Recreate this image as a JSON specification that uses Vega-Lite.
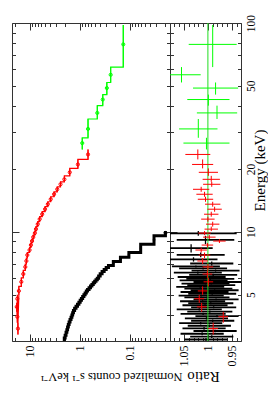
{
  "$schema": "https://vega.github.io/schema/vega-lite/v6.json",
  "padding": {"left": 8, "top": 13, "right": 0, "bottom": 0},
  "spacing": 0,
  "bounds": "flush",
  "config": {
    "font": "Liberation Serif",
    "view": {"stroke": "#333333", "strokeWidth": 1},
    "axis": {"domain": false, "grid": false, "tickColor": "#333333", "tickWidth": 1, "labelFont": "Liberation Serif", "titleFont": "Liberation Serif", "labelColor": "#000000", "titleColor": "#000000", "titleFontWeight": "normal", "labelOverlap": false, "labelFlush": false, "labelBound": false}
  },
  "datasets": {
    "spec": [
      {"set": "black", "elo": 3.0, "ehi": 3.1, "e": 3.05, "c": 2.06, "ce": 0.093, "r": 1.004, "re": 0.045},
      {"set": "black", "elo": 3.1, "ehi": 3.2, "e": 3.15, "c": 1.98, "ce": 0.089, "r": 0.992, "re": 0.045},
      {"set": "black", "elo": 3.2, "ehi": 3.3, "e": 3.25, "c": 1.90, "ce": 0.086, "r": 1.012, "re": 0.045},
      {"set": "black", "elo": 3.3, "ehi": 3.4, "e": 3.35, "c": 1.83, "ce": 0.082, "r": 0.985, "re": 0.045},
      {"set": "black", "elo": 3.4, "ehi": 3.5, "e": 3.45, "c": 1.77, "ce": 0.080, "r": 1.008, "re": 0.045},
      {"set": "black", "elo": 3.5, "ehi": 3.6, "e": 3.55, "c": 1.71, "ce": 0.077, "r": 0.997, "re": 0.045},
      {"set": "black", "elo": 3.6, "ehi": 3.7, "e": 3.65, "c": 1.65, "ce": 0.074, "r": 1.015, "re": 0.045},
      {"set": "black", "elo": 3.7, "ehi": 3.8, "e": 3.75, "c": 1.58, "ce": 0.071, "r": 0.990, "re": 0.045},
      {"set": "black", "elo": 3.8, "ehi": 3.9, "e": 3.85, "c": 1.51, "ce": 0.068, "r": 1.003, "re": 0.045},
      {"set": "black", "elo": 3.9, "ehi": 4.0, "e": 3.95, "c": 1.45, "ce": 0.065, "r": 0.981, "re": 0.045},
      {"set": "black", "elo": 4.0, "ehi": 4.1, "e": 4.05, "c": 1.40, "ce": 0.066, "r": 1.010, "re": 0.047},
      {"set": "black", "elo": 4.1, "ehi": 4.2, "e": 4.15, "c": 1.35, "ce": 0.063, "r": 0.996, "re": 0.047},
      {"set": "black", "elo": 4.2, "ehi": 4.3, "e": 4.25, "c": 1.28, "ce": 0.060, "r": 1.018, "re": 0.047},
      {"set": "black", "elo": 4.3, "ehi": 4.4, "e": 4.35, "c": 1.20, "ce": 0.056, "r": 0.988, "re": 0.047},
      {"set": "black", "elo": 4.4, "ehi": 4.5, "e": 4.45, "c": 1.12, "ce": 0.053, "r": 1.006, "re": 0.047},
      {"set": "black", "elo": 4.5, "ehi": 4.6, "e": 4.55, "c": 1.05, "ce": 0.049, "r": 0.994, "re": 0.047},
      {"set": "black", "elo": 4.6, "ehi": 4.7, "e": 4.65, "c": 0.99, "ce": 0.047, "r": 1.011, "re": 0.047},
      {"set": "black", "elo": 4.7, "ehi": 4.8, "e": 4.75, "c": 0.935, "ce": 0.044, "r": 0.983, "re": 0.047},
      {"set": "black", "elo": 4.8, "ehi": 4.9, "e": 4.85, "c": 0.883, "ce": 0.042, "r": 1.002, "re": 0.047},
      {"set": "black", "elo": 4.9, "ehi": 5.0, "e": 4.95, "c": 0.834, "ce": 0.039, "r": 1.014, "re": 0.047},
      {"set": "black", "elo": 5.0, "ehi": 5.1, "e": 5.05, "c": 0.789, "ce": 0.039, "r": 0.991, "re": 0.05},
      {"set": "black", "elo": 5.1, "ehi": 5.2, "e": 5.15, "c": 0.746, "ce": 0.037, "r": 1.007, "re": 0.05},
      {"set": "black", "elo": 5.2, "ehi": 5.3, "e": 5.25, "c": 0.705, "ce": 0.035, "r": 0.986, "re": 0.05},
      {"set": "black", "elo": 5.3, "ehi": 5.4, "e": 5.35, "c": 0.658, "ce": 0.033, "r": 0.999, "re": 0.05},
      {"set": "black", "elo": 5.4, "ehi": 5.5, "e": 5.45, "c": 0.616, "ce": 0.031, "r": 1.016, "re": 0.05},
      {"set": "black", "elo": 5.5, "ehi": 5.6, "e": 5.55, "c": 0.577, "ce": 0.029, "r": 0.993, "re": 0.05},
      {"set": "black", "elo": 5.6, "ehi": 5.7, "e": 5.65, "c": 0.542, "ce": 0.027, "r": 1.005, "re": 0.05},
      {"set": "black", "elo": 5.7, "ehi": 5.8, "e": 5.75, "c": 0.508, "ce": 0.025, "r": 0.980, "re": 0.05},
      {"set": "black", "elo": 5.8, "ehi": 5.9, "e": 5.85, "c": 0.478, "ce": 0.024, "r": 1.009, "re": 0.05},
      {"set": "black", "elo": 5.9, "ehi": 6.0, "e": 5.95, "c": 0.450, "ce": 0.023, "r": 0.995, "re": 0.05},
      {"set": "black", "elo": 6.0, "ehi": 6.15, "e": 6.075, "c": 0.423, "ce": 0.021, "r": 1.013, "re": 0.05},
      {"set": "black", "elo": 6.15, "ehi": 6.3, "e": 6.225, "c": 0.394, "ce": 0.020, "r": 0.989, "re": 0.05},
      {"set": "black", "elo": 6.3, "ehi": 6.45, "e": 6.375, "c": 0.361, "ce": 0.018, "r": 1.021, "re": 0.05},
      {"set": "black", "elo": 6.45, "ehi": 6.6, "e": 6.525, "c": 0.328, "ce": 0.016, "r": 0.984, "re": 0.05},
      {"set": "black", "elo": 6.6, "ehi": 6.75, "e": 6.675, "c": 0.299, "ce": 0.015, "r": 1.010, "re": 0.05},
      {"set": "black", "elo": 6.75, "ehi": 6.9, "e": 6.825, "c": 0.269, "ce": 0.013, "r": 1.025, "re": 0.05},
      {"set": "black", "elo": 6.9, "ehi": 7.2, "e": 7.05, "c": 0.215, "ce": 0.0097, "r": 0.992, "re": 0.045},
      {"set": "black", "elo": 7.2, "ehi": 7.55, "e": 7.375, "c": 0.155, "ce": 0.0078, "r": 1.030, "re": 0.05},
      {"set": "black", "elo": 7.55, "ehi": 7.97, "e": 7.76, "c": 0.105, "ce": 0.0053, "r": 1.015, "re": 0.05},
      {"set": "black", "elo": 7.97, "ehi": 8.73, "e": 8.35, "c": 0.061, "ce": 0.0027, "r": 1.035, "re": 0.045},
      {"set": "black", "elo": 8.73, "ehi": 9.57, "e": 9.15, "c": 0.033, "ce": 0.002, "r": 1.005, "re": 0.06},
      {"set": "black", "elo": 9.57, "ehi": 10.1, "e": 9.835, "c": 0.0195, "ce": 0.0016, "r": 1.020, "re": 0.08},
      {"set": "red", "elo": 3.22, "ehi": 3.67, "e": 3.44, "c": 17.4, "ce": 0.17, "r": 0.989, "re": 0.010},
      {"set": "red", "elo": 3.67, "ehi": 4.14, "e": 3.92, "c": 17.9, "ce": 0.18, "r": 0.968, "re": 0.010},
      {"set": "red", "elo": 4.14, "ehi": 4.57, "e": 4.37, "c": 18.4, "ce": 0.18, "r": 1.013, "re": 0.010},
      {"set": "red", "elo": 4.57, "ehi": 4.99, "e": 4.78, "c": 17.9, "ce": 0.18, "r": 1.018, "re": 0.010},
      {"set": "red", "elo": 4.99, "ehi": 5.48, "e": 5.21, "c": 16.7, "ce": 0.17, "r": 1.011, "re": 0.010},
      {"set": "red", "elo": 5.48, "ehi": 6.02, "e": 5.76, "c": 14.9, "ce": 0.15, "r": 0.999, "re": 0.010},
      {"set": "red", "elo": 6.02, "ehi": 6.53, "e": 6.28, "c": 13.6, "ce": 0.14, "r": 1.001, "re": 0.010},
      {"set": "red", "elo": 6.53, "ehi": 7.01, "e": 6.79, "c": 12.4, "ce": 0.14, "r": 1.000, "re": 0.011},
      {"set": "red", "elo": 7.01, "ehi": 7.49, "e": 7.25, "c": 11.8, "ce": 0.13, "r": 1.011, "re": 0.011},
      {"set": "red", "elo": 7.49, "ehi": 7.96, "e": 7.74, "c": 11.3, "ce": 0.14, "r": 1.007, "re": 0.012},
      {"set": "red", "elo": 7.96, "ehi": 8.41, "e": 8.18, "c": 10.2, "ce": 0.12, "r": 1.014, "re": 0.012},
      {"set": "red", "elo": 8.41, "ehi": 8.84, "e": 8.64, "c": 9.6, "ce": 0.12, "r": 1.001, "re": 0.012},
      {"set": "red", "elo": 8.84, "ehi": 9.23, "e": 9.03, "c": 9.1, "ce": 0.12, "r": 0.976, "re": 0.013},
      {"set": "red", "elo": 9.23, "ehi": 9.64, "e": 9.43, "c": 8.6, "ce": 0.11, "r": 0.997, "re": 0.013},
      {"set": "red", "elo": 9.64, "ehi": 10.08, "e": 9.86, "c": 8.0, "ce": 0.10, "r": 1.007, "re": 0.013},
      {"set": "red", "elo": 10.08, "ehi": 10.59, "e": 10.30, "c": 7.6, "ce": 0.11, "r": 0.993, "re": 0.014},
      {"set": "red", "elo": 10.59, "ehi": 11.18, "e": 10.88, "c": 7.0, "ce": 0.10, "r": 0.990, "re": 0.014},
      {"set": "red", "elo": 11.18, "ehi": 11.82, "e": 11.50, "c": 6.4, "ce": 0.09, "r": 1.000, "re": 0.014},
      {"set": "red", "elo": 11.82, "ehi": 12.48, "e": 12.14, "c": 5.7, "ce": 0.085, "r": 0.993, "re": 0.015},
      {"set": "red", "elo": 12.48, "ehi": 13.19, "e": 12.83, "c": 5.0, "ce": 0.075, "r": 0.986, "re": 0.015},
      {"set": "red", "elo": 13.19, "ehi": 13.93, "e": 13.56, "c": 4.4, "ce": 0.07, "r": 0.990, "re": 0.016},
      {"set": "red", "elo": 13.93, "ehi": 14.72, "e": 14.32, "c": 3.85, "ce": 0.062, "r": 1.005, "re": 0.016},
      {"set": "red", "elo": 14.72, "ehi": 15.55, "e": 15.13, "c": 3.3, "ce": 0.056, "r": 1.007, "re": 0.017},
      {"set": "red", "elo": 15.55, "ehi": 16.43, "e": 15.98, "c": 2.85, "ce": 0.048, "r": 1.014, "re": 0.017},
      {"set": "red", "elo": 16.43, "ehi": 17.36, "e": 16.89, "c": 2.45, "ce": 0.044, "r": 0.992, "re": 0.018},
      {"set": "red", "elo": 17.36, "ehi": 18.54, "e": 17.84, "c": 2.05, "ce": 0.037, "r": 0.993, "re": 0.018},
      {"set": "red", "elo": 18.54, "ehi": 20.13, "e": 19.27, "c": 1.6, "ce": 0.032, "r": 0.999, "re": 0.020},
      {"set": "red", "elo": 20.13, "ehi": 22.22, "e": 21.02, "c": 1.1, "ce": 0.024, "r": 1.011, "re": 0.022},
      {"set": "red", "elo": 22.22, "ehi": 24.8, "e": 23.47, "c": 0.69, "ce": 0.018, "r": 1.021, "re": 0.026},
      {"set": "green", "elo": 24.8, "ehi": 28.2, "e": 26.6, "c": 0.90, "ce": 0.043, "r": 1.003, "re": 0.048},
      {"set": "green", "elo": 28.2, "ehi": 34.7, "e": 31.1, "c": 0.69, "ce": 0.028, "r": 1.020, "re": 0.040},
      {"set": "green", "elo": 34.7, "ehi": 40.2, "e": 37.1, "c": 0.45, "ce": 0.019, "r": 0.981, "re": 0.042},
      {"set": "green", "elo": 40.2, "ehi": 45.4, "e": 43.0, "c": 0.35, "ce": 0.015, "r": 0.999, "re": 0.044},
      {"set": "green", "elo": 45.4, "ehi": 51.9, "e": 48.8, "c": 0.29, "ce": 0.014, "r": 0.984, "re": 0.047},
      {"set": "green", "elo": 51.9, "ehi": 61.5, "e": 56.5, "c": 0.243, "ce": 0.010, "r": 1.055, "re": 0.040},
      {"set": "green", "elo": 61.5, "ehi": 97.8, "e": 79.0, "c": 0.136, "ce": 0.0068, "r": 0.990, "re": 0.050}
    ]
  },
  "hconcat": [
    {
      "width": 158,
      "height": 318,
      "data": {"name": "spec"},
      "resolve": {"axis": {"x": "independent", "y": "independent"}},
      "layer": [
        {
          "transform": [{"fold": ["elo", "ehi"], "as": ["edge", "E"]}],
          "mark": {"type": "line"},
          "encoding": {
            "x": {"field": "c", "type": "quantitative", "scale": {"type": "log", "domain": [0.0158, 22.9], "reverse": true, "nice": false},
              "axis": {"orient": "bottom", "values": [0.02, 0.03, 0.04, 0.05, 0.06, 0.07, 0.08, 0.09, 0.1, 0.2, 0.3, 0.4, 0.5, 0.6, 0.7, 0.8, 0.9, 1, 2, 3, 4, 5, 6, 7, 8, 9, 10, 20],
                "labelExpr": "datum.value==10?'10':datum.value==1?'1':datum.value==0.1?'0.1':''",
                "tickSize": {"condition": {"test": "datum.value==10||datum.value==1||datum.value==0.1", "value": -7}, "value": -3.5},
                "labelAngle": -90, "labelAlign": "right", "labelBaseline": "middle", "labelFontSize": 12, "labelPadding": 11,
                "title": "Normalized counts s⁻¹ keV⁻¹", "titleAngle": 180, "titleFontSize": 12.5, "titleX": 99, "titleY": 35, "titleAlign": "center", "titleBaseline": "middle"}},
            "y": {"field": "E", "type": "quantitative", "scale": {"type": "log", "domain": [3, 100], "nice": false},
              "axis": {"orient": "left", "values": [3, 4, 5, 6, 7, 8, 9, 10, 20, 30, 40, 50, 60, 70, 80, 90, 100], "labels": false, "title": null,
                "tickSize": {"condition": {"test": "datum.value==10||datum.value==100", "value": -7}, "value": -3.5}}},
            "color": {"field": "set", "type": "nominal", "scale": {"domain": ["black", "red", "green"], "range": ["#000000", "#ff0000", "#00ff00"]}, "legend": null},
            "strokeWidth": {"condition": {"test": "datum.set == 'black'", "value": 3}, "value": 1.2},
            "order": [{"field": "E"}, {"field": "elo"}]
          }
        },
        {
          "mark": {"type": "rule", "strokeWidth": 1},
          "encoding": {
            "x": {"field": "c", "type": "quantitative", "scale": {"type": "log", "domain": [0.0158, 22.9], "reverse": true, "nice": false},
              "axis": {"orient": "top", "values": [0.02, 0.03, 0.04, 0.05, 0.06, 0.07, 0.08, 0.09, 0.1, 0.2, 0.3, 0.4, 0.5, 0.6, 0.7, 0.8, 0.9, 1, 2, 3, 4, 5, 6, 7, 8, 9, 10, 20], "labels": false, "title": null,
                "tickSize": {"condition": {"test": "datum.value==10||datum.value==1||datum.value==0.1", "value": -7}, "value": -3.5}}},
            "y": {"field": "elo", "type": "quantitative", "scale": {"type": "log", "domain": [3, 100], "nice": false},
              "axis": {"orient": "right", "values": [3, 4, 5, 6, 7, 8, 9, 10, 20, 30, 40, 50, 60, 70, 80, 90, 100], "labels": false, "title": null,
                "tickSize": {"condition": {"test": "datum.value==10||datum.value==100", "value": -7}, "value": -3.5}}},
            "y2": {"field": "ehi"},
            "color": {"field": "set", "type": "nominal", "legend": null}
          }
        },
        {
          "mark": {"type": "errorbar", "thickness": 1},
          "encoding": {
            "x": {"field": "c", "type": "quantitative", "scale": {"type": "log", "domain": [0.0158, 22.9], "reverse": true, "nice": false}, "axis": null},
            "xError": {"field": "ce"},
            "y": {"field": "e", "type": "quantitative", "scale": {"type": "log", "domain": [3, 100], "nice": false}, "axis": null},
            "color": {"field": "set", "type": "nominal", "legend": null}
          }
        },
        {
          "transform": [{"filter": "datum.set != 'black'"}],
          "mark": {"type": "point", "size": 10, "strokeWidth": 1, "opacity": 1},
          "encoding": {
            "x": {"field": "c", "type": "quantitative", "scale": {"type": "log", "domain": [0.0158, 22.9], "reverse": true, "nice": false}, "axis": null},
            "y": {"field": "e", "type": "quantitative", "scale": {"type": "log", "domain": [3, 100], "nice": false}, "axis": null},
            "color": {"field": "set", "type": "nominal", "legend": null}
          }
        }
      ]
    },
    {
      "width": 71,
      "height": 318,
      "data": {"name": "spec"},
      "resolve": {"axis": {"x": "independent", "y": "independent"}},
      "layer": [
        {
          "transform": [{"filter": "datum.set == 'black'"}],
          "mark": {"type": "rule", "strokeWidth": 1.3, "clip": true},
          "encoding": {
            "x": {"field": "r", "type": "quantitative", "scale": {"domain": [0.931, 1.079], "reverse": true, "nice": false, "zero": false},
              "axis": {"orient": "bottom", "values": [0.94, 0.95, 0.96, 0.97, 0.98, 0.99, 1, 1.01, 1.02, 1.03, 1.04, 1.05, 1.06, 1.07],
                "labelExpr": "abs(datum.value-1.05)<0.001?'1.05':abs(datum.value-1)<0.001?'1':abs(datum.value-0.95)<0.001?'0.95':''",
                "tickSize": {"condition": {"test": "abs(datum.value-1.05)<0.001||abs(datum.value-1)<0.001||abs(datum.value-0.95)<0.001", "value": -7}, "value": -3.5},
                "labelAngle": -90, "labelAlign": "right", "labelBaseline": "middle", "labelFontSize": 12, "labelPadding": 11,
                "title": "Ratio", "titleAngle": 180, "titleFontSize": 15, "titleX": 33, "titleY": 35, "titleAlign": "center", "titleBaseline": "middle"}},
            "y": {"field": "elo", "type": "quantitative", "scale": {"type": "log", "domain": [3, 100], "nice": false},
              "axis": {"orient": "left", "values": [3, 4, 5, 6, 7, 8, 9, 10, 20, 30, 40, 50, 60, 70, 80, 90, 100], "labels": false, "title": null,
                "tickSize": {"condition": {"test": "datum.value==10||datum.value==100", "value": -7}, "value": -3.5}}},
            "y2": {"field": "ehi"},
            "color": {"field": "set", "type": "nominal", "scale": {"domain": ["black", "red", "green"], "range": ["#000000", "#ff0000", "#00ff00"]}, "legend": null}
          }
        },
        {
          "transform": [{"filter": "datum.set == 'black'"}],
          "mark": {"type": "errorbar", "thickness": 1.8, "clip": true},
          "encoding": {
            "x": {"field": "r", "type": "quantitative", "scale": {"domain": [0.931, 1.079], "reverse": true, "nice": false, "zero": false}, "axis": null},
            "xError": {"field": "re"},
            "y": {"field": "e", "type": "quantitative", "scale": {"type": "log", "domain": [3, 100], "nice": false}, "axis": null},
            "color": {"field": "set", "type": "nominal", "legend": null}
          }
        },
        {
          "data": {"values": [{"ref": 1}]},
          "mark": {"type": "rule", "color": "#22dd22", "strokeWidth": 1},
          "encoding": {
            "x": {"field": "ref", "type": "quantitative", "scale": {"domain": [0.931, 1.079], "reverse": true, "nice": false, "zero": false}, "axis": null}
          }
        },
        {
          "transform": [{"filter": "datum.set != 'black'"}],
          "mark": {"type": "rule", "strokeWidth": 1, "clip": true},
          "encoding": {
            "x": {"field": "r", "type": "quantitative", "scale": {"domain": [0.931, 1.079], "reverse": true, "nice": false, "zero": false},
              "axis": {"orient": "top", "values": [0.94, 0.95, 0.96, 0.97, 0.98, 0.99, 1, 1.01, 1.02, 1.03, 1.04, 1.05, 1.06, 1.07], "labels": false, "title": null,
                "tickSize": {"condition": {"test": "abs(datum.value-1.05)<0.001||abs(datum.value-1)<0.001||abs(datum.value-0.95)<0.001", "value": -7}, "value": -3.5}}},
            "y": {"field": "elo", "type": "quantitative", "scale": {"type": "log", "domain": [3, 100], "nice": false},
              "axis": {"orient": "right", "values": [3, 4, 5, 6, 7, 8, 9, 10, 20, 30, 40, 50, 60, 70, 80, 90, 100],
                "labelExpr": "(datum.value==5||datum.value==10||datum.value==20||datum.value==50||datum.value==100)?''+datum.value:''",
                "tickSize": {"condition": {"test": "datum.value==10||datum.value==100", "value": -7}, "value": -3.5},
                "labelPadding": {"condition": {"test": "datum.value==10||datum.value==100", "value": 11}, "value": 7.5},
                "labelAngle": -90, "labelAlign": "center", "labelBaseline": "top", "labelFontSize": 11.5,
                "title": "Energy (keV)", "titleAngle": -90, "titleFontSize": 15, "titleX": 11, "titleY": 147, "titleAlign": "center", "titleBaseline": "top"}},
            "y2": {"field": "ehi"},
            "color": {"field": "set", "type": "nominal", "legend": null}
          }
        },
        {
          "transform": [{"filter": "datum.set != 'black'"}],
          "mark": {"type": "errorbar", "thickness": 1, "clip": true},
          "encoding": {
            "x": {"field": "r", "type": "quantitative", "scale": {"domain": [0.931, 1.079], "reverse": true, "nice": false, "zero": false}, "axis": null},
            "xError": {"field": "re"},
            "y": {"field": "e", "type": "quantitative", "scale": {"type": "log", "domain": [3, 100], "nice": false}, "axis": null},
            "color": {"field": "set", "type": "nominal", "legend": null}
          }
        }
      ]
    }
  ]
}
